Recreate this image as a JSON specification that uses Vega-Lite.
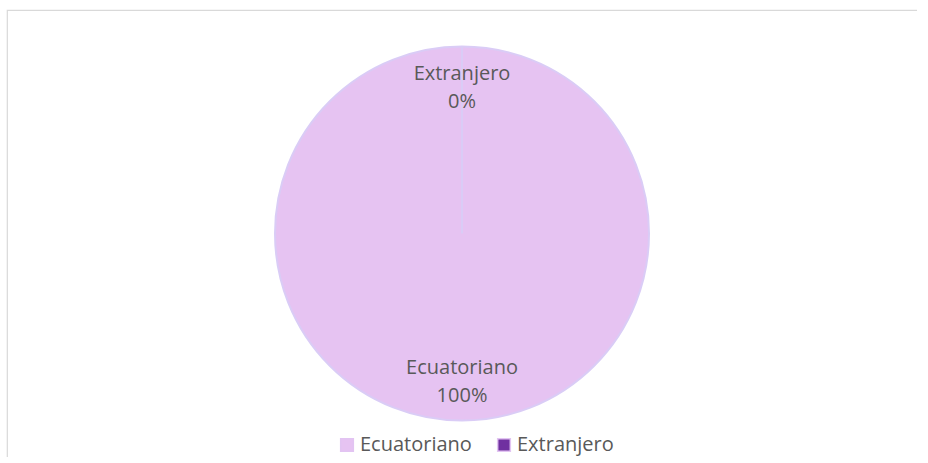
{
  "$schema": "https://vega.github.io/schema/vega-lite/v6.json",
  "width": 910,
  "height": 447,
  "autosize": {"type": "none"},
  "padding": {"left": 7, "top": 10, "right": 0, "bottom": 0},
  "background": "white",
  "view": {"stroke": "#D9D9D9", "strokeWidth": 1.2, "strokeDash": [910, 1357, 447, 0]},
  "config": {
    "font": "Open Sans"
  },
  "data": {
    "values": [
      {"origen": "Ecuatoriano", "pct": 100, "label": "Ecuatoriano\n100%"},
      {"origen": "Extranjero", "pct": 0, "label": "Extranjero\n0%"}
    ]
  },
  "encoding": {
    "theta": {"field": "pct", "type": "quantitative", "stack": true}
  },
  "layer": [
    {
      "mark": {"type": "arc", "outerRadius": 187, "stroke": "#DACCF6", "strokeWidth": 2},
      "encoding": {
        "color": {
          "field": "origen",
          "type": "nominal",
          "scale": {"domain": ["Ecuatoriano", "Extranjero"], "range": ["#E6C3F2", "#7030A0"]},
          "legend": {
            "title": null,
            "orient": "none",
            "direction": "horizontal",
            "legendX": 330,
            "legendY": 425,
            "padding": 0,
            "symbolType": "square",
            "symbolSize": 160,
            "symbolStrokeColor": "#E2C4F2",
            "symbolStrokeWidth": 1.5,
            "labelFont": "Open Sans",
            "labelFontSize": 20,
            "labelColor": "#595959",
            "labelOffset": 3,
            "columnPadding": 22
          }
        }
      }
    },
    {
      "mark": {"type": "text", "radius": 147, "dy": -13, "fontSize": 20, "fill": "#595959", "lineBreak": "\n", "lineHeight": 28, "font": "Open Sans"},
      "encoding": {
        "text": {"field": "label", "type": "nominal"},
        "detail": {"field": "origen", "type": "nominal"}
      }
    }
  ]
}
